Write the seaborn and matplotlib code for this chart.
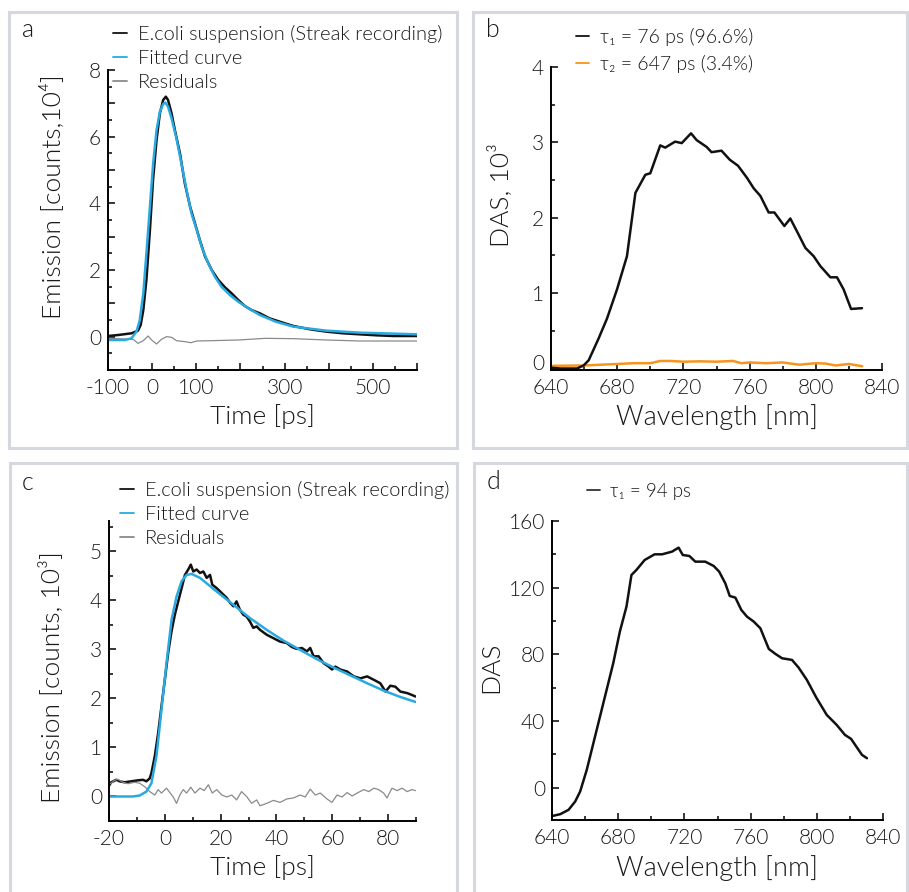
import matplotlib
matplotlib.use("Agg")
import matplotlib.pyplot as plt
import seaborn as sns
import pandas as pd
from matplotlib.ticker import MultipleLocator, FuncFormatter
from matplotlib.lines import Line2D
from matplotlib.patches import Rectangle
from matplotlib.transforms import ScaledTranslation

# ---------------- data ----------------
# panel a : decay trace, fit, residuals (x in ps, y in 10^4 counts)
a_data_t = [-100, -77, -47, -32, -26, -20, -13, -5, 2, 10, 17.5, 25, 31, 36, 44, 51.5, 63, 74, 86, 97,
            108, 120, 135, 150, 165, 180, 195, 210, 225, 244, 266, 289, 320, 358, 395, 433, 471, 509, 547, 600]
a_data_v = [0.02, 0.05, 0.10, 0.18, 0.35, 0.8, 1.7, 3.2, 4.7, 5.9, 6.7, 7.1, 7.2, 7.1, 6.7, 6.2, 5.5, 4.6, 3.9, 3.4,
            2.9, 2.4, 2.0, 1.7, 1.48, 1.3, 1.1, 0.92, 0.8, 0.70, 0.55, 0.45, 0.32, 0.22, 0.15, 0.10, 0.07, 0.04, 0.02, 0.02]
a_fit_t = [-100, -62, -47, -35.5, -28, -20, -13, -5, 2.3, 10, 17.5, 25, 30, 36, 44, 55, 67, 78, 89, 101,
           112, 127, 142, 157, 176, 195, 218, 244, 280, 320, 395, 471, 600]
a_fit_v = [-0.1, -0.1, -0.05, 0.15, 0.5, 1.3, 2.5, 3.9, 5.2, 6.2, 6.75, 6.98, 7.02, 6.9, 6.55, 5.95, 5.15, 4.4, 3.7, 3.2,
           2.7, 2.2, 1.8, 1.5, 1.25, 1.05, 0.85, 0.65, 0.45, 0.30, 0.18, 0.12, 0.07]
a_res_t = [-100, -43, -32, -20, -9, -1.4, 10, 21, 32.6, 44, 55, 74, 88, 101, 135, 195, 256, 320, 395, 471, 600]
a_res_v = [-0.05, -0.08, -0.2, -0.12, 0.02, -0.1, -0.22, -0.08, 0.0, -0.02, -0.12, -0.15, -0.18, -0.13, -0.12,
           -0.10, -0.05, -0.06, -0.1, -0.13, -0.13]

# panel b : DAS (10^3) vs wavelength
b_wl1 = [640, 645.6, 655.7, 659.7, 662.8, 668.8, 673.8, 679.9, 685.9, 691, 697, 700, 706, 709, 715, 719, 724.6,
         728, 734, 737, 743, 748, 753, 758.4, 762.5, 766.5, 771.5, 775, 781, 784.6, 788.6, 793.7, 798.7, 802.7,
         808.8, 812.8, 816.8, 821.3, 827.9]
b_tau1 = [0.01, 0.0, 0.0, 0.04, 0.11, 0.40, 0.66, 1.05, 1.49, 2.33, 2.57, 2.59, 2.96, 2.93, 3.01, 2.99, 3.12,
          3.03, 2.94, 2.87, 2.89, 2.77, 2.69, 2.53, 2.39, 2.29, 2.07, 2.07, 1.89, 1.99, 1.82, 1.60, 1.49, 1.36,
          1.21, 1.21, 1.05, 0.79, 0.80]
b_wl2 = [640, 660, 670, 680, 690, 700, 706, 712, 720, 730, 740, 750, 755, 760, 770, 780, 790, 800, 806, 812, 820, 828]
b_tau2 = [0.035, 0.04, 0.05, 0.06, 0.07, 0.07, 0.10, 0.10, 0.09, 0.095, 0.09, 0.10, 0.07, 0.08, 0.07, 0.08,
          0.05, 0.07, 0.065, 0.04, 0.06, 0.03]

# panel c : decay trace, fit, residuals (x in ps, y in 10^3 counts)
c_data_t = [-20, -19.2, -17.4, -16.2, -14.4, -12, -9.6, -7.8, -6.6, -5.4, -4.8, -3.6, -2.4, -1.2, 0, 1.2, 2.4,
            3.6, 4.8, 6.2, 7.2, 8.4, 9.3, 10.2, 11.4, 12.6, 13.8, 15, 16.2, 17, 18.6, 20.4, 22.2, 23.4, 24.6,
            25.7, 26.9, 28.1, 29.3, 30.5, 31.7, 32.9, 34.1, 36.5, 38.9, 41.3, 43.7, 45.5, 47.3, 49.1, 50.9,
            52.1, 53.3, 55.1, 56.9, 58.7, 59.9, 61.1, 62.9, 65.3, 67.7, 70.1, 72.5, 74.9, 77.2, 79.1, 80.8,
            82.6, 84.4, 86.8, 88.6, 89.8]
c_data_v = [0.22, 0.29, 0.34, 0.31, 0.29, 0.31, 0.33, 0.34, 0.31, 0.37, 0.48, 0.82, 1.29, 1.84, 2.38, 2.93, 3.37,
            3.71, 3.98, 4.29, 4.52, 4.63, 4.73, 4.59, 4.63, 4.56, 4.59, 4.46, 4.52, 4.32, 4.25, 4.15, 4.05, 3.95,
            3.88, 3.98, 3.81, 3.71, 3.67, 3.57, 3.44, 3.47, 3.40, 3.30, 3.23, 3.16, 3.13, 3.05, 3.01, 3.03, 2.96,
            3.03, 2.86, 2.86, 2.72, 2.65, 2.59, 2.65, 2.59, 2.55, 2.45, 2.41, 2.45, 2.38, 2.31, 2.14, 2.26,
            2.24, 2.14, 2.11, 2.07, 2.04]
c_fit_t = [-20, -11.4, -9, -6.6, -4.8, -3, -1.2, 0.6, 2.4, 4.2, 6, 7.8, 9.6, 12.6, 18.6, 24.6, 30.5, 36.5,
           42.5, 48.5, 54.5, 60.5, 66.5, 72.5, 78.4, 84.4, 89.8]
c_fit_v = [0.0, 0.0, 0.02, 0.1, 0.27, 0.82, 1.77, 2.72, 3.6, 4.08, 4.39, 4.52, 4.54, 4.46, 4.18, 3.91, 3.64,
           3.40, 3.18, 2.99, 2.80, 2.63, 2.47, 2.31, 2.16, 2.03, 1.93]
c_res_t = [-20, -18, -16.8, -15, -13.2, -10.8, -9, -7.2, -5.4, -3.6, -2.4, -1.2, 0.6, 1.8, 3.0, 4.2, 5.4, 6.6,
           7.8, 9.3, 10.8, 12.6, 14.1, 15.6, 17, 18.6, 20.4, 22.2, 24, 25.7, 27.5, 29.3, 31.1, 32.9, 34.1,
           36.5, 38.9, 41.3, 43.7, 46.1, 48.5, 50.3, 52.1, 53.9, 55.7, 58.1, 59.9, 61.7, 63.5, 65.3, 67.1,
           68.9, 71.3, 73.1, 74.9, 76.6, 78.4, 79.6, 81.4, 83.2, 85, 86.8, 88.6, 89.8]
c_res_v = [0.24, 0.33, 0.35, 0.29, 0.26, 0.29, 0.27, 0.20, 0.10, 0.03, 0.14, 0.07, 0.17, 0.08, -0.01, -0.14,
           0.03, 0.14, 0.07, 0.19, 0.07, 0.17, 0.12, 0.24, 0.07, 0.14, 0.03, -0.01, 0.03, -0.07, 0.10, 0.0,
           -0.14, -0.07, -0.19, -0.14, -0.08, -0.12, -0.05, -0.03, 0.03, -0.01, 0.15, 0.03, 0.07, -0.05,
           -0.12, 0.03, -0.01, 0.08, 0.01, 0.07, 0.14, 0.10, 0.17, 0.14, 0.07, -0.03, 0.17, 0.12, 0.17,
           0.10, 0.14, 0.12]

# panel d : DAS vs wavelength
d_wl = [640.6, 645, 650, 654, 657, 661, 665, 669, 673, 677, 681, 685, 688, 691, 696, 702, 706.5, 712.5, 716.5,
        719, 723, 726.6, 732.6, 737.7, 741, 744.7, 747.4, 750.8, 754.4, 757.8, 761.9, 765.9, 771, 775, 779,
        785, 789, 794, 799.7, 806, 812, 817, 820.7, 827.3, 830.3]
d_tau1 = [-17, -16, -13.4, -8.4, -2.4, 10.6, 26.6, 42.6, 58.6, 74.6, 93.6, 108.6, 127.6, 130.6, 136.6, 140,
          140, 141.6, 144, 139.6, 139, 135.6, 135.6, 133, 129.6, 122.6, 115, 114, 106.6, 102.6, 99.6, 95.6,
          83.2, 80.2, 77.6, 76.6, 72, 64.6, 54, 43.6, 37.6, 31.6, 29.2, 19.6, 17.6]

legend_a = ["E.coli suspension (Streak recording)", "Fitted curve", "Residuals"]
legend_b = ["τ₁ = 76 ps (96.6%)", "τ₂ = 647 ps (3.4%)"]
legend_d = ["τ₁ = 94 ps"]

BLACK = "#111111"
BLUE = "#29a9e1"
GRAY = "#8a8a8a"
ORANGE = "#f7941d"
TXT = "#1a1a1a"
LAB = 19

# ---------------- figure ----------------
sns.set_theme(style="white")
plt.rcParams["font.family"] = ["Lato", "DejaVu Sans"]
plt.rcParams["font.weight"] = 300
plt.rcParams["axes.labelweight"] = 300
plt.rcParams["axes.unicode_minus"] = False
plt.rcParams["text.color"] = TXT
plt.rcParams["axes.labelcolor"] = TXT
plt.rcParams["xtick.labelcolor"] = TXT
plt.rcParams["ytick.labelcolor"] = TXT

W, H = 909, 892
fig = plt.figure(figsize=(W / 100, H / 100), dpi=100)
fig.patch.set_facecolor("white")


def ax_at(l, t, r, b):
    return fig.add_axes([l / W, 1 - b / H, (r - l) / W, (b - t) / H])


def box(x0, y0, x1, y1):
    fig.patches.append(Rectangle((x0 / W, 1 - y1 / H), (x1 - x0) / W, (y1 - y0) / H,
                                 transform=fig.transFigure, fill=False,
                                 edgecolor="#d5d8de", lw=2.2, zorder=0))


def style(ax):
    for s in ["top", "right"]:
        ax.spines[s].set_visible(False)
    for s in ["left", "bottom"]:
        ax.spines[s].set_color("black")
        ax.spines[s].set_linewidth(1.4)
    ax.tick_params(which="both", direction="in", color="black", labelcolor=TXT, width=1.1,
                   bottom=True, left=True, labelsize=15, pad=5)
    ax.tick_params(axis="x", which="both", pad=6)
    ax.tick_params(which="major", length=5)
    ax.tick_params(which="minor", length=3)
    ax.set_facecolor("white")
    ax.grid(False)


def only(vals):
    return FuncFormatter(lambda v, p: (f"{v:g}" if any(abs(v - k) < 1e-6 for k in vals) else ""))


def legend(ax, colors, labels, anchor, fs, spacing):
    leg = ax.legend(handles=[Line2D([], [], color=c, lw=1.3) for c in colors], labels=labels,
                    loc="upper left", bbox_to_anchor=anchor, frameon=False, fontsize=fs,
                    handlelength=0.7, handletextpad=0.55, labelspacing=spacing, borderaxespad=0,
                    borderpad=0)
    for t in leg.get_texts():
        t.set_color(TXT)


box(9, 12, 457, 448)
box(473, 12, 907, 448)
box(10, 463, 457, 905)
box(474, 463, 907, 905)

# ---- panel a ----
axa = ax_at(108, 70, 417, 370)
sns.lineplot(x=a_data_t, y=a_data_v, ax=axa, color=BLACK, lw=1.8, sort=False, estimator=None)
sns.lineplot(x=a_res_t, y=a_res_v, ax=axa, color=GRAY, lw=0.9, sort=False, estimator=None)
sns.lineplot(x=a_fit_t, y=a_fit_v, ax=axa, color=BLUE, lw=1.8, sort=False, estimator=None)
axa.set_xlim(-100, 600)
axa.set_ylim(-1, 8)
axa.xaxis.set_major_locator(MultipleLocator(100))
axa.xaxis.set_minor_locator(MultipleLocator(50))
axa.xaxis.set_major_formatter(only([-100, 0, 100, 300, 500]))
axa.yaxis.set_major_locator(MultipleLocator(1))
axa.yaxis.set_minor_locator(MultipleLocator(0.5))
axa.yaxis.set_major_formatter(only([0, 2, 4, 6, 8]))
style(axa)
axa.set_xlabel("Time [ps]", fontsize=LAB)
axa.set_ylabel("Emission [counts,10⁴]", fontsize=LAB)
axa.xaxis.set_label_coords(0.5, -0.112)
axa.yaxis.set_label_coords(-0.135, 0.577)
legend(axa, (BLACK, BLUE, GRAY), legend_a, (0.015, 1.15), 14.4, 0.36)

# ---- panel b ----
axb = ax_at(551, 67, 882, 370)
sns.lineplot(x=b_wl2, y=b_tau2, ax=axb, color=ORANGE, lw=1.8, sort=False, estimator=None)
sns.lineplot(x=b_wl1, y=b_tau1, ax=axb, color=BLACK, lw=1.8, sort=False, estimator=None)
axb.set_xlim(640, 840)
axb.set_ylim(-0.02, 4)
axb.xaxis.set_major_locator(MultipleLocator(40))
axb.xaxis.set_minor_locator(MultipleLocator(20))
axb.yaxis.set_major_locator(MultipleLocator(1))
axb.yaxis.set_minor_locator(MultipleLocator(0.5))
style(axb)
axb.set_xlabel("Wavelength [nm]", fontsize=LAB + 0.5)
axb.set_ylabel("DAS, 10³", fontsize=LAB)
axb.xaxis.set_label_coords(0.5, -0.112)
axb.yaxis.set_label_coords(-0.112, 0.578)
legend(axb, (BLACK, ORANGE), legend_b, (0.075, 1.13), 14, 0.45)

# ---- panel c ----
axc = ax_at(109, 521, 416, 821)
sns.lineplot(x=c_data_t, y=c_data_v, ax=axc, color=BLACK, lw=1.8, sort=False, estimator=None)
sns.lineplot(x=c_res_t, y=c_res_v, ax=axc, color=GRAY, lw=0.9, sort=False, estimator=None)
sns.lineplot(x=c_fit_t, y=c_fit_v, ax=axc, color=BLUE, lw=1.8, sort=False, estimator=None)
axc.set_xlim(-20, 90)
axc.set_ylim(-0.5, 5.62)
axc.xaxis.set_major_locator(MultipleLocator(20))
axc.xaxis.set_minor_locator(MultipleLocator(10))
axc.yaxis.set_major_locator(MultipleLocator(1))
axc.yaxis.set_minor_locator(MultipleLocator(0.5))
axc.yaxis.set_major_formatter(only([0, 1, 2, 3, 4, 5]))
style(axc)
axc.set_xlabel("Time [ps]", fontsize=LAB)
axc.set_ylabel("Emission [counts, 10³]", fontsize=LAB)
axc.xaxis.set_label_coords(0.5, -0.114)
axc.yaxis.set_label_coords(-0.143, 0.478)
legend(axc, (BLACK, BLUE, GRAY), legend_a, (0.035, 1.135), 14.4, 0.36)

# ---- panel d ----
axd = ax_at(552, 521, 883, 820)
sns.lineplot(x=d_wl, y=d_tau1, ax=axd, color=BLACK, lw=1.8, sort=False, estimator=None)
axd.set_xlim(640, 840)
axd.set_ylim(-19.5, 160)
axd.xaxis.set_major_locator(MultipleLocator(40))
axd.xaxis.set_minor_locator(MultipleLocator(20))
axd.yaxis.set_major_locator(MultipleLocator(40))
axd.yaxis.set_minor_locator(MultipleLocator(20))
style(axd)
axd.set_xlabel("Wavelength [nm]", fontsize=LAB + 0.5)
axd.set_ylabel("DAS", fontsize=LAB)
axd.xaxis.set_label_coords(0.5, -0.117)
axd.yaxis.set_label_coords(-0.147, 0.51)
legend(axd, ("#333333",), legend_d, (0.105, 1.128), 13.5, 0.3)

fig.canvas.draw()
# raise the "0" label of panel b so it clears the x tick labels (as in the reference)
for lab in axb.get_yticklabels():
    if lab.get_text() == "0":
        lab.set_transform(lab.get_transform() + ScaledTranslation(0, 6 / 100, fig.dpi_scale_trans))

# panel letters
for x, y, s in [(28, 30, "a"), (493, 30, "b"), (28, 483, "c"), (493, 482, "d")]:
    fig.text(x / W, 1 - y / H, s, fontsize=18, ha="center", va="center", color=TXT)

fig.savefig("out.png", dpi=100, facecolor="white")
